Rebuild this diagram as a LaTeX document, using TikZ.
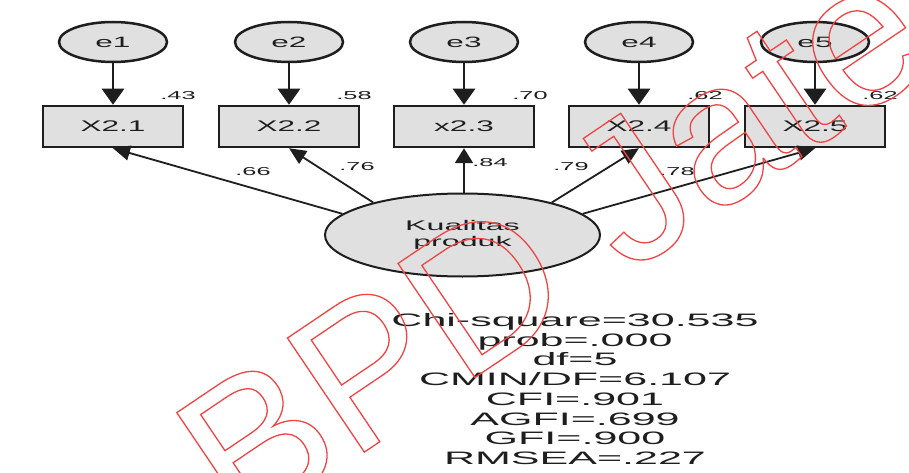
\documentclass[tikz,border=0pt]{standalone}
\usepackage{fontspec}
\setmainfont{Liberation Sans}
\usepackage{graphicx}
\usetikzlibrary{arrows.meta,shapes.geometric}
\definecolor{shapefill}{RGB}{224,224,224}
\definecolor{inkcol}{RGB}{30,30,30}
\definecolor{wmred}{RGB}{240,70,70}
\newcommand{\sx}[2]{\scalebox{#1}[1]{#2}}
\begin{document}
\begin{tikzpicture}[x=1pt,y=-1pt,
  errnode/.style={ellipse, draw=inkcol, line width=2.5pt, fill=shapefill, minimum width=108pt, minimum height=40pt, inner sep=0pt, text=inkcol, font=\fontsize{15}{18}\selectfont},
  obsnode/.style={rectangle, draw=inkcol, line width=2.5pt, fill=shapefill, minimum width=140pt, minimum height=41pt, inner sep=0pt, text=inkcol, font=\fontsize{15.4}{18}\selectfont},
  latnode/.style={ellipse, draw=inkcol, line width=2pt, fill=shapefill, minimum width=275pt, minimum height=83pt, inner sep=0pt, align=center, text=inkcol, font=\fontsize{14}{16}\selectfont},
  errarrow/.style={draw=inkcol, line width=2.8pt, -{Triangle[length=16pt,width=22pt]}},
  loadarrow/.style={draw=inkcol, line width=1.8pt, -{Triangle[length=17pt,width=15pt]}},
  coef/.style={inner sep=0pt, text=inkcol, font=\fontsize{11.5}{12}\selectfont},
  statline/.style={inner sep=0pt, anchor=base, text=inkcol, font=\fontsize{18}{20}\selectfont},
  wmark/.style={inner sep=0pt, anchor=base west, rotate=34, text=wmred, font=\fontsize{200}{240}\selectfont}
]
\useasboundingbox (0,0) rectangle (909,473);
\fill[white] (0,0) rectangle (909,473);

% error terms
\node[errnode] (e1) at (113,42) {\sx{2.1}{e1}};
\node[errnode] (e2) at (289,42) {\sx{2.1}{e2}};
\node[errnode] (e3) at (464,42) {\sx{2.1}{e3}};
\node[errnode] (e4) at (639,42) {\sx{2.1}{e4}};
\node[errnode] (e5) at (815,42) {\sx{2.1}{e5}};

% observed variables
\node[obsnode] (x1) at (113,126.5) {\sx{2.05}{X2.1}};
\node[obsnode] (x2) at (289,126.5) {\sx{2.05}{X2.2}};
\node[obsnode] (x3) at (464,126.5) {\sx{2.05}{x2.3}};
\node[obsnode] (x4) at (639,126.5) {\sx{2.05}{X2.4}};
\node[obsnode] (x5) at (815,126.5) {\sx{2.05}{X2.5}};

% latent variable
\node[latnode] (K) at (462.5,235) {\sx{2.3}{Kualitas}\\\sx{2.3}{produk}};

% error arrows
\foreach \i in {1,...,5} {
  \draw[errarrow] (e\i) -- (x\i);
}

% loadings
\draw[loadarrow] (K.170) -- (x1.south);
\draw[loadarrow] (K.160) -- (x2.south);
\draw[loadarrow, line width=2.5pt, -{Triangle[length=15pt,width=18pt]}] (K.north -| x3.south) -- (x3.south);
\draw[loadarrow] (K.20) -- (x4.south);
\draw[loadarrow] (K.10) -- (x5.south);

% squared multiple correlations
\node[coef] (r1) at (178,96) {\sx{2.2}{.43}};
\node[coef] (r2) at (354,96) {\sx{2.2}{.58}};
\node[coef] (r3) at (530,96) {\sx{2.2}{.70}};
\node[coef] (r4) at (705,96) {\sx{2.2}{.62}};
\node[coef] (r5) at (880,96) {\sx{2.2}{.62}};

% loading values
\node[coef] (l1) at (253,172) {\sx{2.2}{.66}};
\node[coef] (l2) at (357,167) {\sx{2.2}{.76}};
\node[coef] (l3) at (490,163) {\sx{2.2}{.84}};
\node[coef] (l4) at (571,167) {\sx{2.2}{.79}};
\node[coef] (l5) at (677,172) {\sx{2.2}{.78}};

% fit statistics
\foreach \t [count=\i] in {Chi-square=30.535, prob=.000, df=5, CMIN/DF=6.107, CFI=.901, AGFI=.699, GFI=.900, RMSEA=.227} {
  \node[statline] (s\i) at (575, 326.5+19.7*\i-19.7) {\sx{2.39}{\t}};
}

% watermark
\begin{scope}
\clip (0,0) rectangle (909,473);
\node[wmark] (wm) at (240,536) {\special{pdf:code 1 Tr 1.3 w 0.94 0.27 0.27 RG}BPD Jateng\special{pdf:code 0 Tr 0.4 w}};
\end{scope}
\end{tikzpicture}
\end{document}
